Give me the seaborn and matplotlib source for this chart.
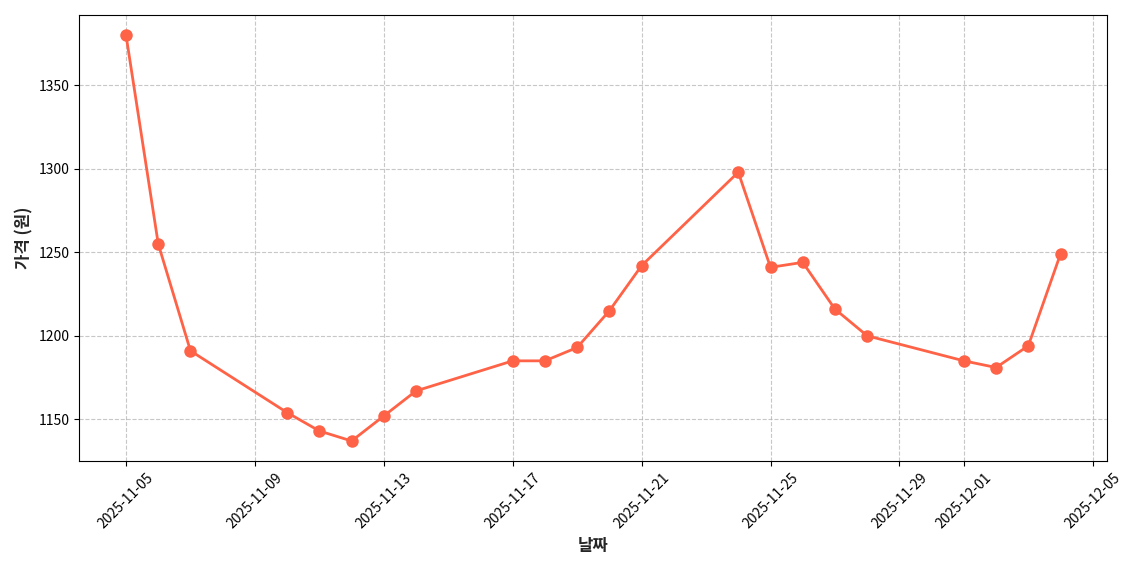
import matplotlib
matplotlib.use("Agg")
import matplotlib.pyplot as plt
import seaborn as sns
import pandas as pd
import matplotlib.dates as mdates

dates = ["2025-11-05","2025-11-06","2025-11-07","2025-11-10","2025-11-11","2025-11-12",
         "2025-11-13","2025-11-14","2025-11-17","2025-11-18","2025-11-19","2025-11-20",
         "2025-11-21","2025-11-24","2025-11-25","2025-11-26","2025-11-27","2025-11-28",
         "2025-12-01","2025-12-02","2025-12-03","2025-12-04"]
prices = [1380,1255,1191,1154,1143,1137,1152,1167,1185,1185,1193,1215,
          1242,1298,1241,1244,1216,1200,1185,1181,1194,1249]

df = pd.DataFrame({"date": pd.to_datetime(dates), "price": prices})

sns.set_style("ticks")
plt.rcParams['font.family'] = ['Noto Sans CJK KR', 'DejaVu Sans']
fig, ax = plt.subplots(figsize=(11.4, 5.7), dpi=100)
sns.lineplot(data=df, x="date", y="price", ax=ax, color="#FF6347", linewidth=2,
             marker="o", markersize=9, markeredgewidth=0)
ax.grid(True, linestyle="--", color="#b0b0b0", alpha=0.7)
ax.xaxis.set_major_locator(mdates.DayLocator(bymonthday=[1,5,9,13,17,21,25,29]))
ax.xaxis.set_major_formatter(mdates.DateFormatter("%Y-%m-%d"))
ax.tick_params(colors="black", labelsize=10)
plt.setp(ax.get_xticklabels(), rotation=45)
ax.set_xlabel("날짜", fontsize=12, fontweight="bold")
ax.set_ylabel("가격 (원)", fontsize=12, fontweight="bold")
for s in ax.spines.values():
    s.set_visible(True)
    s.set_color("black")
fig.tight_layout()
fig.savefig("out.png")
